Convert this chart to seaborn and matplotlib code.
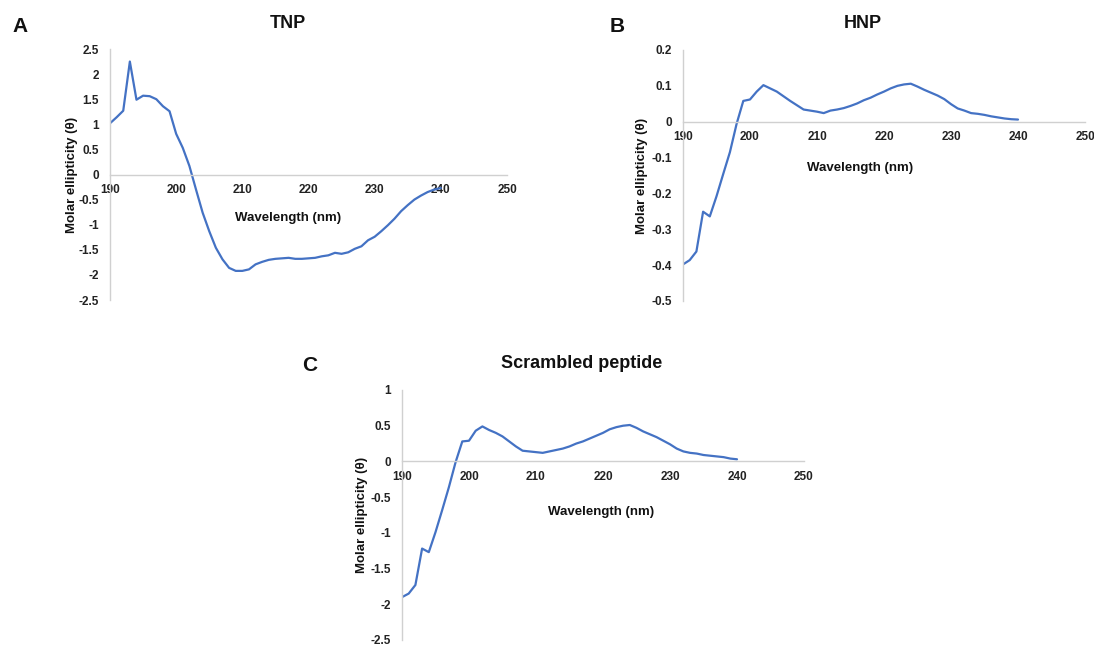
import numpy as np
import pandas as pd
import matplotlib
matplotlib.use("Agg")
import matplotlib.pyplot as plt
from matplotlib.ticker import FuncFormatter, MultipleLocator
import seaborn as sns

# Wavelength grid (nm), 1 nm steps
wavelength = list(range(190, 241))

# TNP molar ellipticity
tnp = [1.02, 1.14, 1.27, 2.25, 1.49, 1.57, 1.56, 1.50, 1.36, 1.26,
       0.81, 0.53, 0.17, -0.30, -0.76, -1.13, -1.46, -1.69, -1.86, -1.92,
       -1.92, -1.89, -1.79, -1.74, -1.70, -1.68, -1.67, -1.66, -1.68, -1.68,
       -1.67, -1.66, -1.63, -1.61, -1.56, -1.58, -1.55, -1.48, -1.43, -1.31,
       -1.24, -1.13, -1.01, -0.88, -0.73, -0.61, -0.50, -0.42, -0.35, -0.30,
       -0.27]

# HNP molar ellipticity
hnp = [-0.398, -0.386, -0.362, -0.251, -0.264, -0.208, -0.146, -0.085, -0.006, 0.058,
       0.062, 0.084, 0.102, 0.093, 0.084, 0.071, 0.058, 0.046, 0.034, 0.031,
       0.028, 0.024, 0.031, 0.034, 0.038, 0.044, 0.051, 0.060, 0.067, 0.076,
       0.084, 0.093, 0.100, 0.104, 0.106, 0.098, 0.089, 0.081, 0.073, 0.063,
       0.049, 0.037, 0.031, 0.024, 0.022, 0.019, 0.015, 0.012, 0.009, 0.007,
       0.006]

# Scrambled peptide molar ellipticity
scrambled = [-1.90, -1.85, -1.73, -1.22, -1.27, -0.99, -0.68, -0.36, -0.01, 0.28,
             0.29, 0.43, 0.49, 0.44, 0.40, 0.35, 0.28, 0.21, 0.15, 0.14,
             0.13, 0.12, 0.14, 0.16, 0.18, 0.21, 0.25, 0.28, 0.32, 0.36,
             0.40, 0.45, 0.48, 0.50, 0.51, 0.47, 0.42, 0.38, 0.34, 0.29,
             0.24, 0.18, 0.14, 0.12, 0.11, 0.09, 0.08, 0.07, 0.06, 0.04,
             0.03]

titles = ["TNP", "HNP", "Scrambled peptide"]
letters = ["A", "B", "C"]
y_ranges = [(-2.5, 2.5, 0.5), (-0.5, 0.2, 0.1), (-2.5, 1.0, 0.5)]
x_range = (190, 250, 10)

sns.set_theme(style="white")
plt.rcParams["font.family"] = ["Liberation Sans", "DejaVu Sans"]
plt.rcParams["font.weight"] = "bold"

LINE = "#4472C4"
AXIS = "#D0D0D0"

fig = plt.figure(figsize=(10.94, 6.48), dpi=100)
fig.patch.set_facecolor("white")

W, H = 1094.0, 648.0
# panel boxes in pixels: left, top, right, bottom
boxes = [(110, 49, 507, 300), (683, 50, 1085, 301), (402, 390, 804, 640)]
# x-label positions in axes fractions
xlabel_pos = [(0.448, 0.327), (0.44, 0.53), (0.495, 0.512)]
title_x = [0.448, 0.448, 0.4466]
ylabel_px = [72, 642, 362]
letter_px = [(20, 27), (617, 27), (310, 366)]

series = [tnp, hnp, scrambled]


def fmt_y(v, pos):
    v = round(v, 2)
    return "0" if abs(v) < 1e-9 else f"{v:g}"


for i in range(3):
    l, t, r, b = boxes[i]
    ax = fig.add_axes([l / W, 1 - b / H, (r - l) / W, (b - t) / H])
    df = pd.DataFrame({"Wavelength": wavelength, "Ellipticity": series[i]})
    sns.lineplot(data=df, x="Wavelength", y="Ellipticity", ax=ax,
                 color=LINE, linewidth=1.6)

    y0, y1, ys = y_ranges[i]
    ax.set_ylim(y0, y1)
    ax.set_xlim(x_range[0], x_range[1])
    ax.yaxis.set_major_locator(MultipleLocator(ys))
    ax.xaxis.set_major_locator(MultipleLocator(x_range[2]))
    ax.yaxis.set_major_formatter(FuncFormatter(fmt_y))
    ax.xaxis.set_major_formatter(FuncFormatter(lambda v, p: f"{v:g}"))

    for s in ["top", "right"]:
        ax.spines[s].set_visible(False)
    ax.spines["bottom"].set_position(("data", 0))
    ax.spines["left"].set_color(AXIS)
    ax.spines["bottom"].set_color(AXIS)
    ax.spines["left"].set_linewidth(1.0)
    ax.spines["bottom"].set_linewidth(1.0)
    ax.tick_params(axis="both", length=0, labelsize=8.5, colors="#222222")
    ax.tick_params(axis="y", pad=8)
    ax.tick_params(axis="x", pad=7)
    for lab in ax.get_xticklabels() + ax.get_yticklabels():
        lab.set_fontweight("bold")
    ax.set_xlabel("")
    ax.set_ylabel("")
    ax.grid(False)
    ax.set_facecolor("white")

    ax.text(xlabel_pos[i][0], xlabel_pos[i][1], "Wavelength (nm)",
            transform=ax.transAxes, ha="center", va="center",
            fontsize=9.5, fontweight="bold", color="#111111")
    ax.text(title_x[i], 1 + 26 / (b - t), titles[i], transform=ax.transAxes,
            ha="center", va="center", fontsize=13, fontweight="bold",
            color="#111111")
    fig.text(ylabel_px[i] / W, 1 - ((t + b) / 2) / H, "Molar ellipticity (θ)",
             rotation=90, ha="center", va="center", fontsize=9.5,
             fontweight="bold", color="#111111")
    lx, ly = letter_px[i]
    fig.text(lx / W, 1 - ly / H, letters[i], ha="center", va="center",
             fontsize=15, fontweight="bold", color="#111111")

fig.savefig("out.png", dpi=100, facecolor="white")
